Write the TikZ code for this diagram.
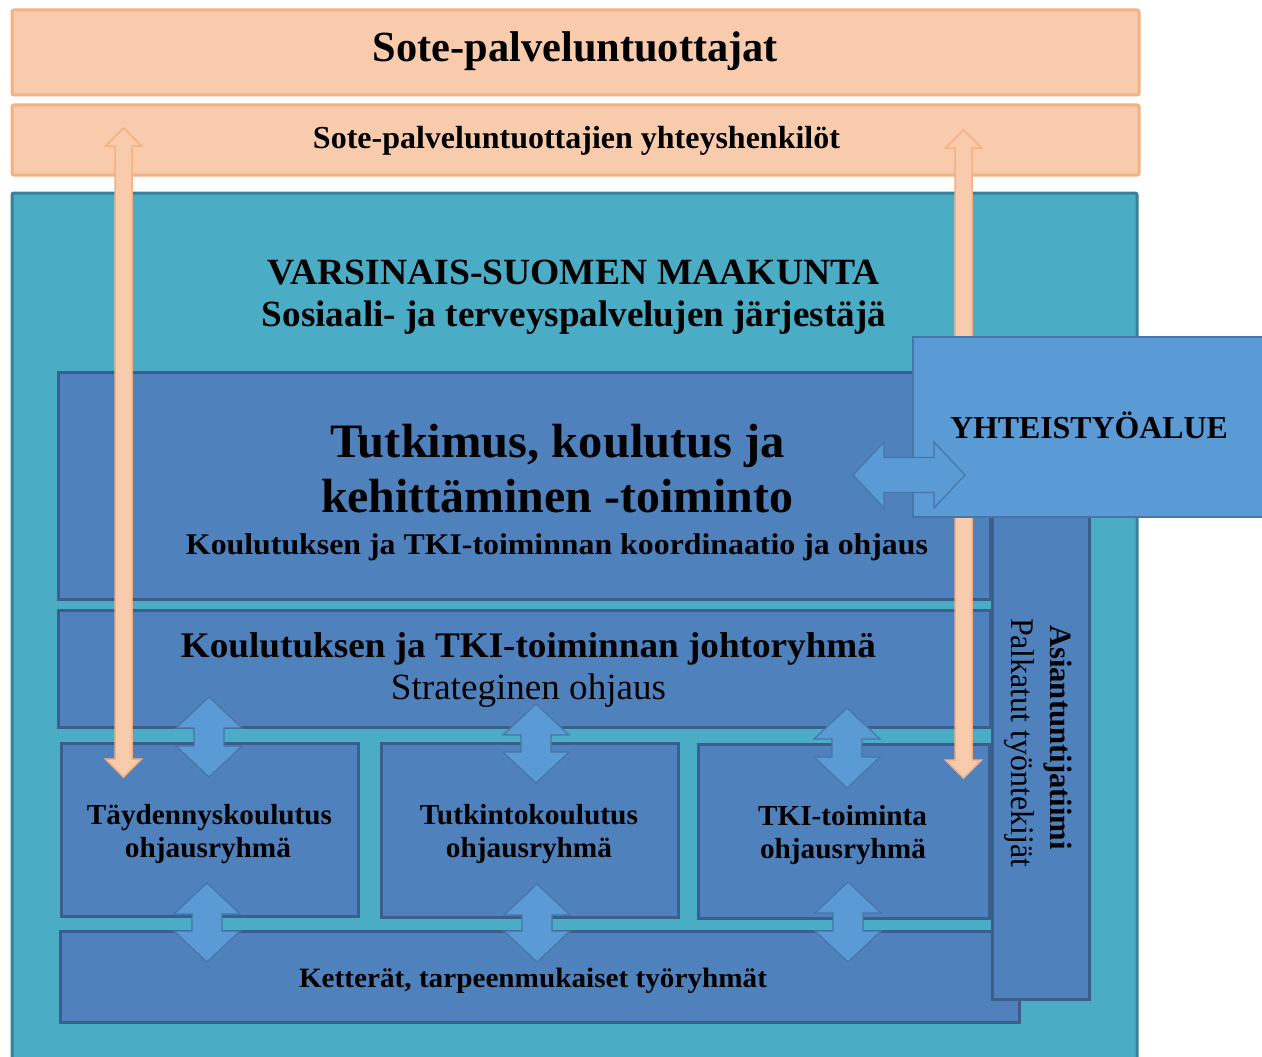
\documentclass[tikz,border=0pt]{standalone}
\usepackage{fontspec}
\setmainfont{Liberation Serif}
\usetikzlibrary{fit}
\definecolor{ofill}{HTML}{F8CBAD}
\definecolor{oline}{HTML}{F4B183}
\definecolor{tfill}{HTML}{4BACC6}
\definecolor{tline}{HTML}{37809A}
\definecolor{bfill}{HTML}{4F81BD}
\definecolor{bline}{HTML}{3B5F8D}
\definecolor{lfill}{HTML}{5A9AD5}
\definecolor{lline}{HTML}{4676A6}
% vertical double arrow: style, cx, ytop, ybot, shaft half, head half, head length
\newcommand{\vdarr}[7]{%
  \draw[#1] (#2,#3) -- (#2+#6,#3+#7) -- (#2+#5,#3+#7) -- (#2+#5,#4-#7) -- (#2+#6,#4-#7)
    -- (#2,#4) -- (#2-#6,#4-#7) -- (#2-#5,#4-#7) -- (#2-#5,#3+#7) -- (#2-#6,#3+#7) -- cycle;}
% horizontal double arrow: style, cy, xleft, xright, shaft half, head half, head length
\newcommand{\hdarr}[7]{%
  \draw[#1] (#3,#2) -- (#3+#7,#2-#6) -- (#3+#7,#2-#5) -- (#4-#7,#2-#5) -- (#4-#7,#2-#6)
    -- (#4,#2) -- (#4-#7,#2+#6) -- (#4-#7,#2+#5) -- (#3+#7,#2+#5) -- (#3+#7,#2+#6) -- cycle;}
\newcommand{\fw}[2]{\resizebox{#1pt}{\height}{#2}}
\begin{document}
\begin{tikzpicture}[x=1pt,y=-1pt,
  obox/.style={draw=oline, fill=ofill, line width=3pt, rounded corners=2pt, inner sep=0pt},
  tbox/.style={draw=tline, fill=tfill, line width=3pt, rounded corners=2pt, inner sep=0pt},
  bbox/.style={draw=bline, fill=bfill, line width=3pt, inner sep=0pt},
  ybox/.style={draw=lline, fill=lfill, line width=2pt, inner sep=0pt},
  sarrow/.style={draw=lline, fill=lfill, line width=1.2pt, line join=miter},
  oarrow/.style={draw=oline, fill=ofill, line width=1.5pt, line join=miter},
  btxt/.style={inner sep=0pt, anchor=base, font=\bfseries\fontsize{#1}{#1}\selectfont},
  rtxt/.style={inner sep=0pt, anchor=base, font=\fontsize{#1}{#1}\selectfont}]
\useasboundingbox (0,0) rectangle (1262,1057);
\fill[white] (0,0) rectangle (1262,1057);

% orange boxes
\node[obox, fit={(12,10)(1139,95)}] (prov) {};
\node[obox, fit={(12,105)(1139,175)}] (contact) {};
\node[btxt=43] (provtxt) at (575.5,62) {\fw{405}{Sote-palveluntuottajat}};
\node[btxt=32] (contacttxt) at (576.5,148) {\fw{527}{Sote-palveluntuottajien yhteyshenkilöt}};

% teal region box
\node[tbox, fit={(12,193)(1137,1075)}] (region) {};
\node[btxt=37] (regtxt1) at (574,284) {\fw{612}{VARSINAIS-SUOMEN MAAKUNTA}};
\node[btxt=37] (regtxt2) at (574,326) {\fw{624}{Sosiaali- ja terveyspalvelujen järjestäjä}};

% blue boxes
\node[bbox, fit={(58,372)(990,599)}] (tki) {};
\node[bbox, fit={(58,610)(990,727)}] (johto) {};
\node[bbox, fit={(61,743)(358,916)}] (tayd) {};
\node[bbox, fit={(381,743)(678,917)}] (tutk) {};
\node[bbox, fit={(698,744)(989,918)}] (tkit) {};
\node[bbox, fit={(60,931)(1019,1022)}] (kett) {};
\node[bbox, fit={(992,480)(1089,999)}] (asi) {};

\node[btxt=48] (tkitxt1) at (557.5,457) {\fw{455}{Tutkimus, koulutus ja}};
\node[btxt=48] (tkitxt2) at (557,512) {\fw{472}{kehittäminen -toiminto}};
\node[btxt=30] (tkitxt3) at (557,554) {\fw{742}{Koulutuksen ja TKI-toiminnan koordinaatio ja ohjaus}};
\node[btxt=36] (johtotxt1) at (528.5,657) {\fw{695}{Koulutuksen ja TKI-toiminnan johtoryhmä}};
\node[rtxt=37] (johtotxt2) at (528.5,699) {\fw{275}{Strateginen ohjaus}};
\node[btxt=29] (taydtxt1) at (209.5,824) {\fw{245}{Täydennyskoulutus}};
\node[btxt=29] (taydtxt2) at (208,857) {\fw{166}{ohjausryhmä}};
\node[btxt=29] (tutktxt1) at (529,824) {\fw{218}{Tutkintokoulutus}};
\node[btxt=29] (tutktxt2) at (529,857) {\fw{166}{ohjausryhmä}};
\node[btxt=29] (tkittxt1) at (842.5,825) {\fw{169}{TKI-toiminta}};
\node[btxt=29] (tkittxt2) at (843,858) {\fw{166}{ohjausryhmä}};
\node[btxt=28] (kettxt) at (533,987) {\fw{468}{Ketterät, tarpeenmukaiset työryhmät}};
\node[btxt=31, rotate=-90] (asitxt1) at (1050,737.5) {\fw{225}{Asiantuntijatiimi}};
\node[rtxt=33, rotate=-90] (asitxt2) at (1011,742.5) {\fw{249}{Palkatut työntekijät}};

% small vertical double arrows
\vdarr{sarrow}{209}{697}{777}{15}{33}{31}
\vdarr{sarrow}{536}{704}{783}{15}{33}{31}
\vdarr{sarrow}{847}{708}{788}{15}{33}{31}
\vdarr{sarrow}{207}{883}{962}{15}{33}{31}
\vdarr{sarrow}{537}{884}{962}{15}{33}{31}
\vdarr{sarrow}{848}{882}{962}{15}{33}{31}

% orange long arrows
\vdarr{oarrow}{123.5}{128}{777}{8.5}{18}{18}
\vdarr{oarrow}{963.5}{130}{778}{8.5}{18}{18}

% cooperation area
\node[ybox, fit={(913,337)(1275,517)}] (yht) {};
\node[btxt=32] (yhttxt) at (1089,438) {\fw{278}{YHTEISTYÖALUE}};

% horizontal double arrow
\hdarr{sarrow}{475}{853}{965}{17.5}{33}{31}
\end{tikzpicture}
\end{document}
